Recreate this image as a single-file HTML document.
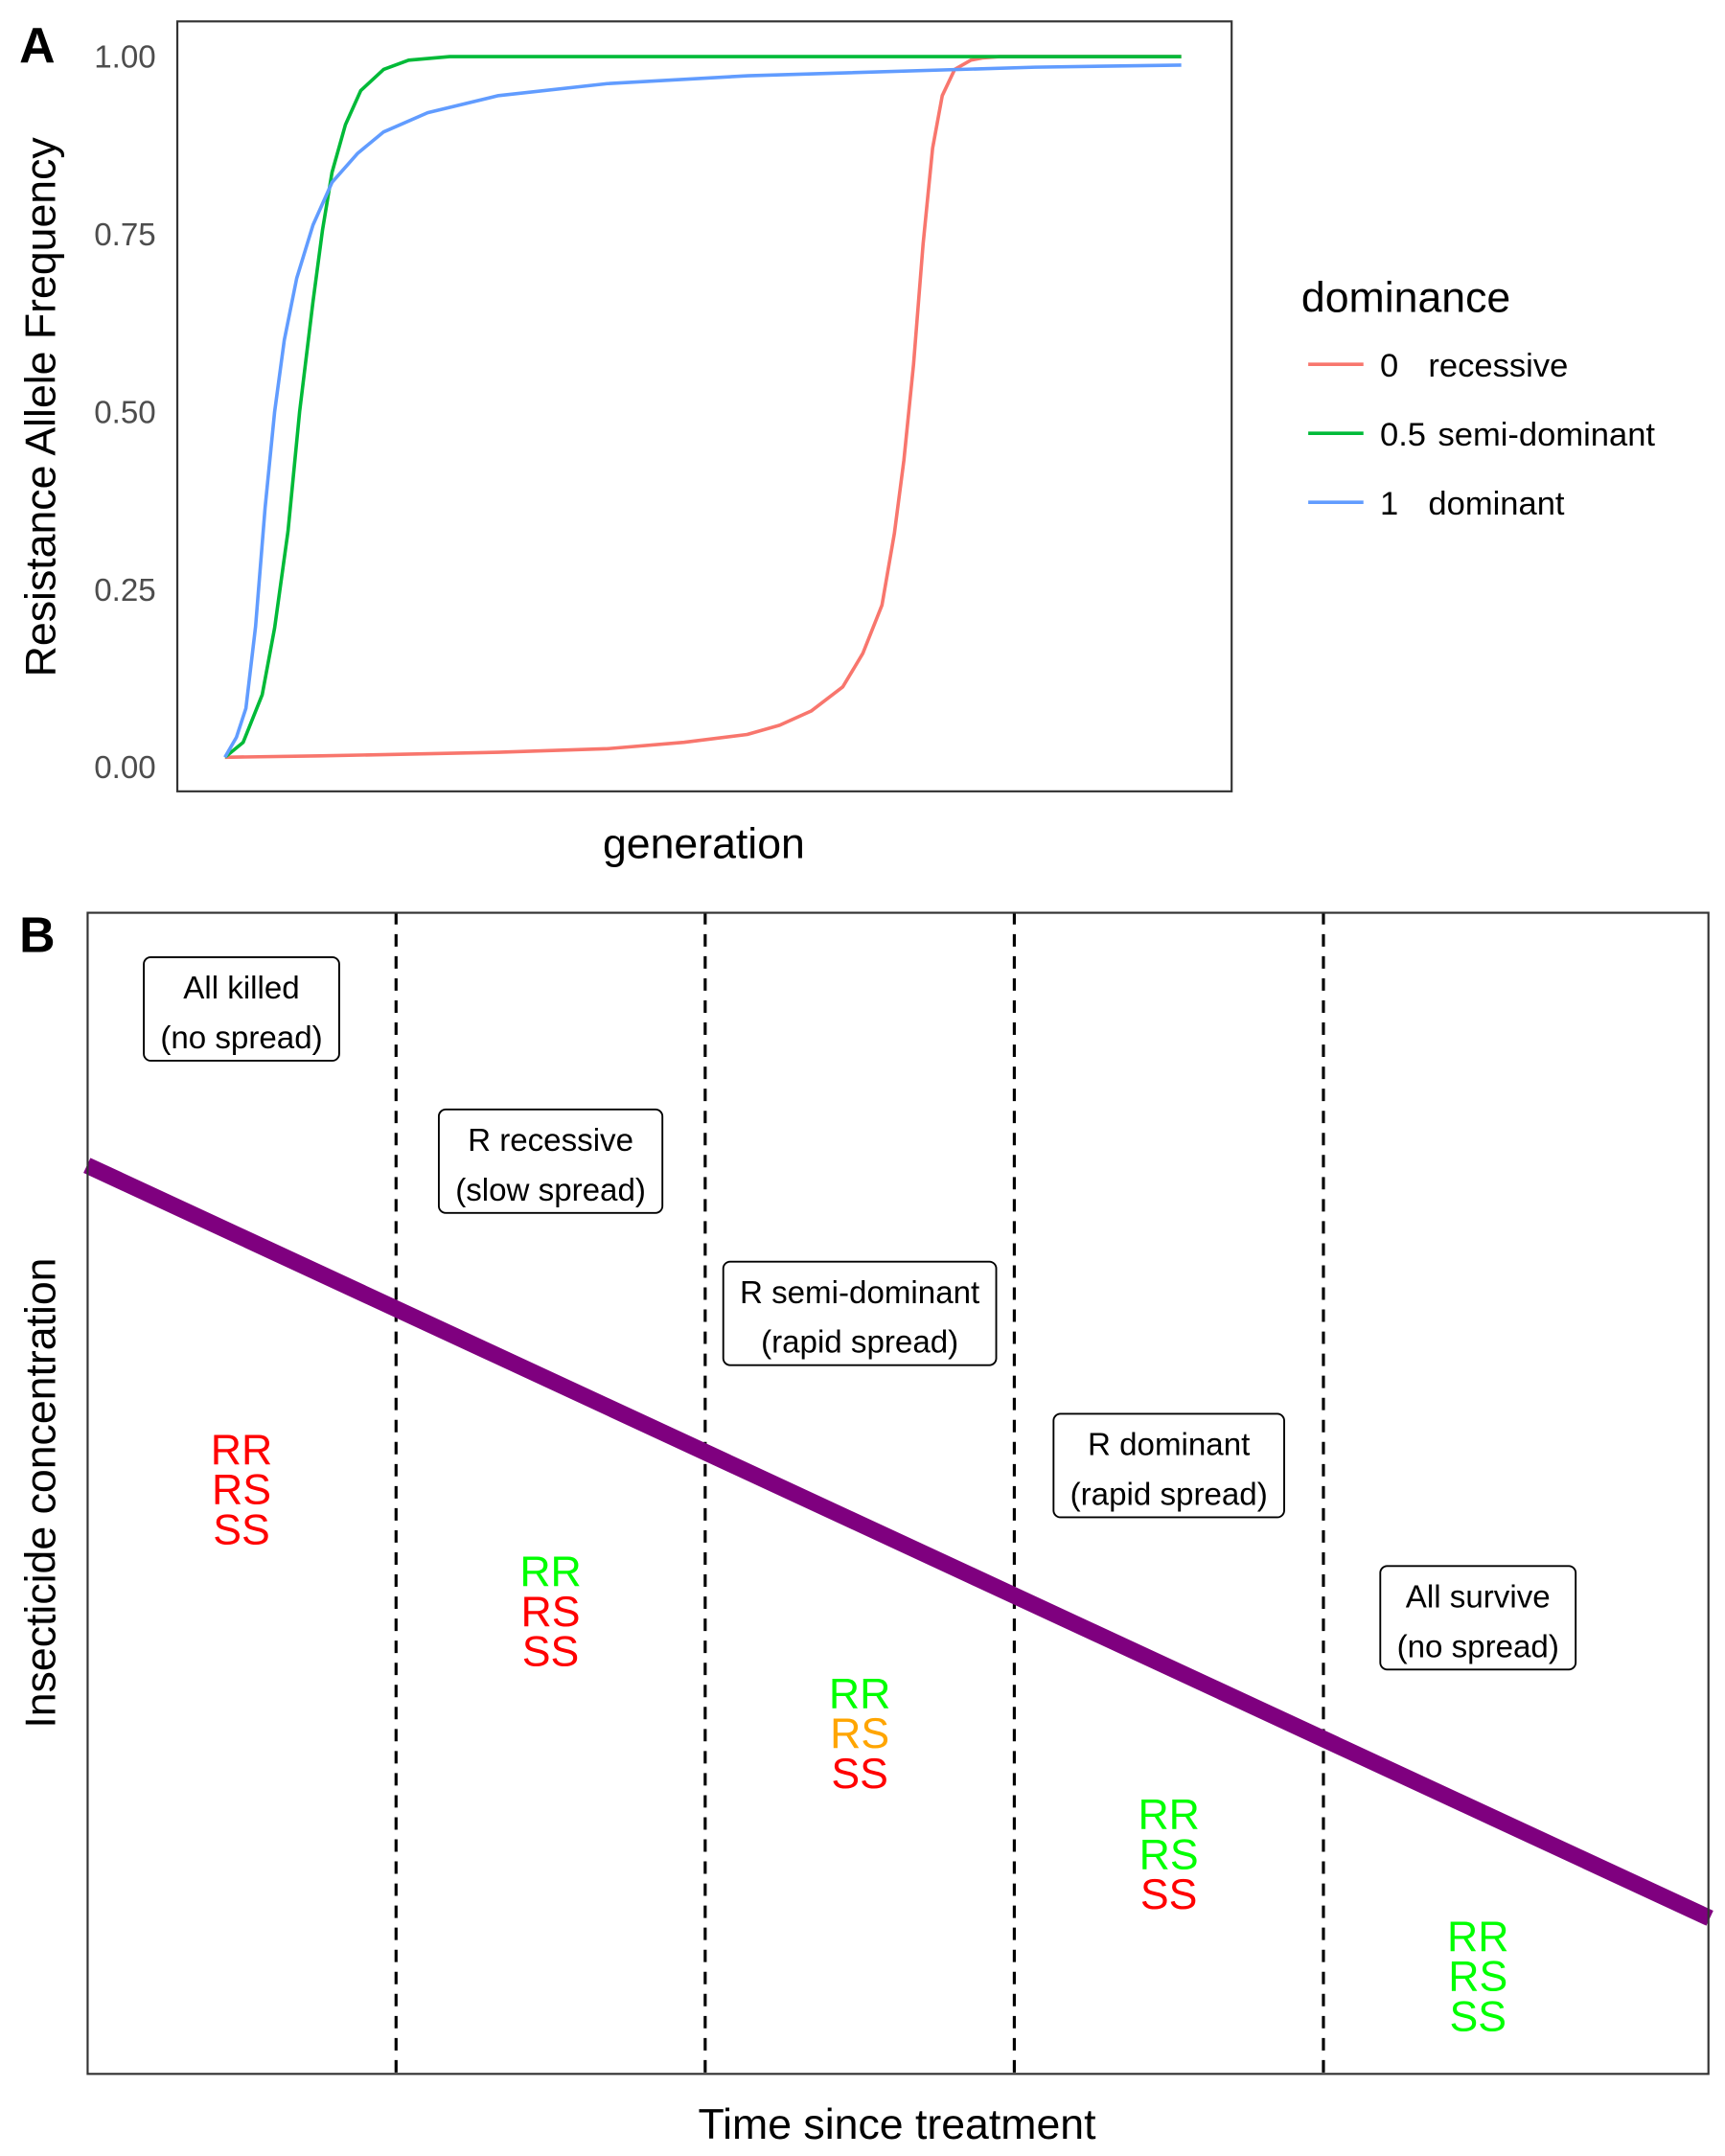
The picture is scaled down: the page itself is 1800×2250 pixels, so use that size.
<!DOCTYPE html>
<html><head><meta charset="utf-8"><style>
html,body{margin:0;padding:0;background:#fff}
svg{display:block}
text{font-family:"Liberation Sans",Arial,sans-serif}
</style></head><body>
<svg id="fig" width="1800" height="2250" viewBox="0 0 1250 1562.5" xmlns="http://www.w3.org/2000/svg">
<rect width="1250" height="1562.5" fill="#fff"/>
<g id="pa"></g>
<g id="pb"></g>
</svg>
<script>
// ---- Panel A data ----
const yTicks = [0, 0.25, 0.5, 0.75, 1.0];
const yTickLabels = ["0.00", "0.25", "0.50", "0.75", "1.00"];
const recGen = [0, 10, 28.6, 40, 48, 54.6, 58.0, 61.3, 64.6, 66.7, 68.7, 70.0, 71.0, 72.0, 73.0, 74.0, 75.0, 76.3, 78.0, 79.2, 81, 100];
const recFreq = [0.014, 0.016, 0.021, 0.026, 0.035, 0.046, 0.059, 0.079, 0.113, 0.16, 0.228, 0.329, 0.432, 0.567, 0.736, 0.871, 0.945, 0.982, 0.995, 0.998, 1.0, 1.0];
const semiGen = [0, 1.9, 3.9, 5.2, 6.6, 7.8, 9.2, 10.2, 11.2, 12.6, 14.2, 16.6, 19.2, 23.5, 100];
const semiFreq = [0.014, 0.035, 0.102, 0.196, 0.332, 0.50, 0.655, 0.756, 0.837, 0.904, 0.952, 0.982, 0.995, 1.0, 1.0];
const domGen = [0, 1.2, 2.2, 3.2, 4.2, 5.2, 6.2, 7.5, 9.2, 11.2, 13.9, 16.6, 21.2, 28.6, 40, 54.7, 84.7, 100];
const domFreq = [0.014, 0.042, 0.083, 0.198, 0.365, 0.50, 0.601, 0.688, 0.763, 0.823, 0.864, 0.894, 0.921, 0.945, 0.962, 0.973, 0.985, 0.988];
const seriesNames = ["0   recessive", "0.5 semi-dominant", "1   dominant"];
const seriesColors = ["#F8766D", "#00BA38", "#619CFF"];

// ---- Panel B data ----
const boundaries = [1, 2, 3, 4];           // zone boundaries (zone units)
const timeMax = 5.25;                       // right edge of panel B in zone units
const concStart = 0.782, concEnd = 0.134;   // insecticide concentration (0..1)
const boxTitles = ["All killed", "R recessive", "R semi-dominant", "R dominant", "All survive"];
const boxSubs = ["(no spread)", "(slow spread)", "(rapid spread)", "(rapid spread)", "(no spread)"];
const boxLevel = [0.916, 0.785, 0.654, 0.523, 0.392];
const genoLevel = [0.538, 0.433, 0.328, 0.224, 0.119];
const genoColors = [
  ["red","red","red"],["#00ff00","red","red"],["#00ff00","orange","red"],
  ["#00ff00","#00ff00","red"],["#00ff00","#00ff00","#00ff00"]];
const genotypes = ["RR","RS","SS"];

const NS = "http://www.w3.org/2000/svg";
function mk(parent, tag, attrs, txt){
  const e = document.createElementNS(NS, tag);
  for (const k in attrs) e.setAttribute(k, attrs[k]);
  if (txt !== undefined) e.textContent = txt;
  parent.appendChild(e); return e;
}
// ---- Panel A ----
const pa = document.getElementById('pa');
const ax = g => 163 + g * 6.93;
const ay = v => 556 - v * 515;
let t;
t = mk(pa,'text',{x:14,y:45,'font-size':36,'font-weight':'bold'},'A');
 
yTicks.forEach((v,i)=>{
  const l = mk(pa,'text',{x:113,y:ay(v)+8,'font-size':23,fill:'#4d4d4d','text-anchor':'end'},yTickLabels[i]);
   
});
t = mk(pa,'text',{transform:'translate(40,295) rotate(-90)','font-size':31,'text-anchor':'middle'},'Resistance Allele Frequency');
 
t = mk(pa,'text',{x:510,y:622,'font-size':31,'text-anchor':'middle'},'generation');
 
[[recGen,recFreq],[semiGen,semiFreq],[domGen,domFreq]].forEach((s,i)=>{
  const d = s[0].map((g,j)=>(j?'L':'M')+ax(g).toFixed(1)+','+ay(s[1][j]).toFixed(1)).join(' ');
  const p = mk(pa,'path',{d:d,fill:'none',stroke:seriesColors[i],'stroke-width':2.5,'stroke-linejoin':'round'});
   
});
t = mk(pa,'rect',{x:128.5,y:15.5,width:764,height:558,fill:'none',stroke:'#333','stroke-width':1.5});
 
t = mk(pa,'text',{x:943,y:226,'font-size':31},'dominance');
 
seriesNames.forEach((n,i)=>{
  const y = 264 + i*50;
  const l = mk(pa,'line',{x1:948,x2:988,y1:y,y2:y,stroke:seriesColors[i],'stroke-width':2.5});
   
  const parts = n.split(/\s+/);
  const a = mk(pa,'text',{x:1000,y:y+9,'font-size':24},parts[0]);
   
  const b = mk(pa,'text',{x:parts[0]==='0.5'?1042:1035,y:y+9,'font-size':24},parts.slice(1).join(' '));
   
});
// ---- Panel B ----
const pb = document.getElementById('pb');
const bx = z => 63 + z * 224;
const by = v => 1503 - v * 842;
t = mk(pb,'text',{x:14,y:690,'font-size':36,'font-weight':'bold'},'B');
 
boundaries.forEach(z=>{
  const l = mk(pb,'line',{x1:bx(z),x2:bx(z),y1:661,y2:1503,stroke:'#000','stroke-width':2.2,'stroke-dasharray':'9,7'});
   
});
t = mk(pb,'line',{x1:bx(0),y1:by(concStart),x2:bx(timeMax),y2:by(concEnd),stroke:'#7f007f','stroke-width':12});
 
boxTitles.forEach((title,i)=>{
  const cx = bx(i+0.5), cy = by(boxLevel[i]);
  const r = mk(pb,'rect',{x:cx-60,y:cy-38,width:120,height:75,rx:5,fill:'#fff',stroke:'#000','stroke-width':1.3});
   
  const a = mk(pb,'text',{x:cx,y:cy-8,'font-size':23,'text-anchor':'middle'},title);
   
  const b = mk(pb,'text',{x:cx,y:cy+28,'font-size':23,'text-anchor':'middle'},boxSubs[i]);
   
  const w = Math.max(a.getComputedTextLength(), b.getComputedTextLength()) + 24;
  r.setAttribute('x', cx - w/2); r.setAttribute('width', w);
  genotypes.forEach((gname,k)=>{
    const g = mk(pb,'text',{x:cx,y:by(genoLevel[i])+k*29+11,'font-size':31,'text-anchor':'middle',fill:genoColors[i][k]},gname);
     
  });
});
t = mk(pb,'rect',{x:63.5,y:661.5,width:1174.5,height:841.5,fill:'none',stroke:'#333','stroke-width':1.5});
 
t = mk(pb,'text',{transform:'translate(40,1082) rotate(-90)','font-size':31,'text-anchor':'middle'},'Insecticide concentration');
 
t = mk(pb,'text',{x:650,y:1550,'font-size':31,'text-anchor':'middle'},'Time since treatment');
 
</script>
</body></html>
